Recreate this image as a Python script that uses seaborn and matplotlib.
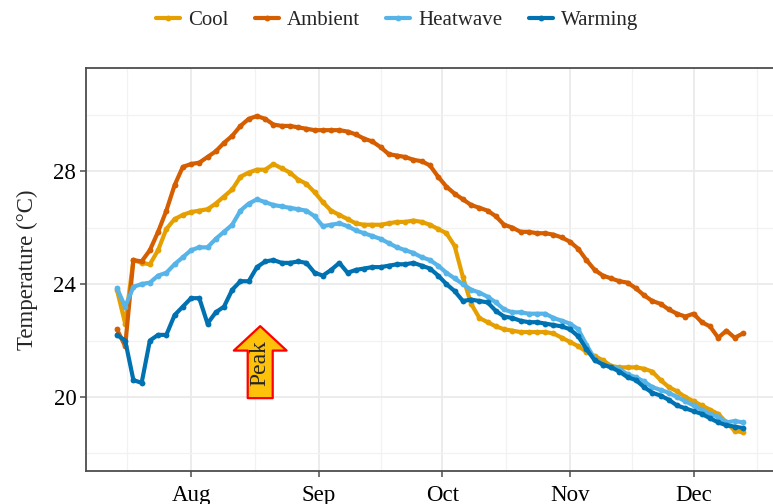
import numpy as np
import pandas as pd
import matplotlib
matplotlib.use("Agg")
import matplotlib.pyplot as plt
import matplotlib.dates as mdates
from matplotlib.ticker import MultipleLocator, FixedLocator
from matplotlib.lines import Line2D
import seaborn as sns

# ── Data (every second day) ─────────────────────────────────────────────────
start_date = "2023-07-14"
n_days = 77

cool = [23.8, 22.6, 24.85, 24.75, 24.7, 25.2, 25.95, 26.3, 26.45, 26.55,
        26.6, 26.65, 26.85, 27.1, 27.35, 27.8, 27.95, 28.05, 28.05, 28.25,
        28.1, 27.95, 27.7, 27.55, 27.25, 26.9, 26.6, 26.45, 26.3, 26.15,
        26.1, 26.1, 26.1, 26.15, 26.2, 26.2, 26.25, 26.2, 26.1, 25.95,
        25.8, 25.35, 24.25, 23.3, 22.8, 22.65, 22.5, 22.4, 22.35, 22.3,
        22.3, 22.3, 22.3, 22.25, 22.1, 21.95, 21.8, 21.6, 21.45, 21.3,
        21.1, 21.05, 21.05, 21.05, 21.0, 20.9, 20.6, 20.35, 20.2, 20.0,
        19.85, 19.7, 19.55, 19.4, 19.1, 18.8, 18.75]

ambient = [22.4, 21.8, 24.85, 24.8, 25.2, 25.85, 26.6, 27.5, 28.15, 28.25,
           28.3, 28.5, 28.7, 29.0, 29.25, 29.6, 29.85, 29.95, 29.85, 29.65,
           29.6, 29.6, 29.55, 29.5, 29.45, 29.45, 29.45, 29.45, 29.4, 29.3,
           29.15, 29.05, 28.85, 28.6, 28.55, 28.5, 28.4, 28.35, 28.2, 27.8,
           27.45, 27.2, 27.0, 26.8, 26.7, 26.6, 26.4, 26.1, 26.0, 25.85,
           25.85, 25.8, 25.8, 25.75, 25.65, 25.5, 25.25, 24.85, 24.5, 24.3,
           24.2, 24.1, 24.05, 23.85, 23.6, 23.4, 23.3, 23.1, 22.95, 22.85,
           22.95, 22.65, 22.5, 22.1, 22.35, 22.1, 22.25]

heatwave = [23.85, 23.2, 23.9, 24.0, 24.05, 24.3, 24.4, 24.7, 24.95, 25.2,
            25.3, 25.3, 25.6, 25.85, 26.1, 26.6, 26.85, 27.0, 26.9, 26.8,
            26.75, 26.7, 26.65, 26.6, 26.4, 26.05, 26.1, 26.15, 26.05, 25.9,
            25.8, 25.7, 25.6, 25.45, 25.3, 25.2, 25.1, 24.95, 24.85, 24.65,
            24.4, 24.2, 24.0, 23.8, 23.7, 23.55, 23.35, 23.1, 23.0, 23.0,
            22.95, 22.95, 22.95, 22.8, 22.7, 22.6, 22.4, 21.85, 21.35, 21.15,
            21.05, 21.0, 20.8, 20.7, 20.55, 20.35, 20.25, 20.15, 20.0, 19.85,
            19.7, 19.55, 19.4, 19.3, 19.1, 19.15, 19.1]

warming = [22.2, 22.0, 20.6, 20.5, 22.0, 22.2, 22.2, 22.9, 23.2, 23.5,
           23.5, 22.6, 23.0, 23.2, 23.8, 24.1, 24.1, 24.6, 24.8, 24.85,
           24.75, 24.75, 24.8, 24.75, 24.4, 24.3, 24.5, 24.75, 24.4, 24.5,
           24.55, 24.6, 24.6, 24.65, 24.7, 24.7, 24.75, 24.65, 24.55, 24.3,
           24.0, 23.75, 23.4, 23.45, 23.4, 23.35, 23.05, 22.85, 22.8, 22.7,
           22.65, 22.65, 22.6, 22.55, 22.5, 22.4, 22.15, 21.7, 21.3, 21.15,
           21.05, 20.9, 20.7, 20.6, 20.35, 20.15, 20.05, 19.9, 19.7, 19.6,
           19.5, 19.4, 19.25, 19.1, 19.0, 18.95, 18.9]

series_names = ["Cool", "Ambient", "Heatwave", "Warming"]
COLORS = ["#E69F00", "#D55E00", "#56B4E9", "#0072B2"]

# "Peak" arrow: tail / tip temperatures and date
peak_date = "2023-08-17 19:00"
peak_tail, peak_tip = 19.96, 22.51

dates = pd.date_range(start_date, periods=n_days, freq="2D")
df = pd.concat([
    pd.DataFrame({"date": dates, "temp": vals, "treatment": name})
    for name, vals in zip(series_names, [cool, ambient, heatwave, warming])
])

# ── Style ─────────────────────────────────────────────────────────────────────
sns.set_theme(style="whitegrid")
plt.rcParams["font.family"] = ["Liberation Serif", "DejaVu Serif"]

fig = plt.figure(figsize=(7.73, 5.04), dpi=100)
ax = fig.add_axes([0.1113, 0.0655, 0.8887, 0.7995])

sns.lineplot(data=df, x="date", y="temp", hue="treatment",
             hue_order=series_names, palette=COLORS, marker="o",
             markersize=4.2, markeredgewidth=0, linewidth=3.0,
             legend=False, ax=ax)

# axes limits / ticks
t0 = pd.Timestamp(start_date)
ax.set_xlim(t0 - pd.Timedelta(days=7.5), t0 + pd.Timedelta(days=159.3))
ax.set_ylim(17.38, 31.65)

month_starts = pd.date_range("2023-07-01", "2024-01-01", freq="MS")
mids = [a + (b - a) / 2 for a, b in zip(month_starts[:-1], month_starts[1:])]
ax.xaxis.set_major_locator(mdates.MonthLocator())
ax.xaxis.set_major_formatter(mdates.DateFormatter("%b"))
ax.xaxis.set_minor_locator(FixedLocator(mdates.date2num(mids)))
ax.yaxis.set_major_locator(MultipleLocator(4))
ax.yaxis.set_minor_locator(MultipleLocator(2))

ax.grid(which="major", color="#EBEBEB", linewidth=1.3)
ax.grid(which="minor", color="#F2F2F2", linewidth=0.9)
ax.set_axisbelow(True)

for side in ["left", "bottom", "top"]:
    ax.spines[side].set_visible(True)
    ax.spines[side].set_color("#4D4D4D")
    ax.spines[side].set_linewidth(1.3)
ax.spines["right"].set_visible(False)

ax.tick_params(axis="both", which="major", length=4, width=1.1,
               color="#4D4D4D", labelsize=16.5, labelcolor="black",
               left=True, bottom=True)
ax.tick_params(axis="x", which="major", pad=6)
ax.tick_params(axis="y", which="major", pad=3)
ax.tick_params(which="minor", length=0)
ax.set_xlabel("")
ax.set_ylabel("Temperature (°C)", fontsize=16.5, labelpad=11)

# ── Peak annotation ───────────────────────────────────────────────────────────
pk = pd.Timestamp(peak_date)
ax.annotate("", xy=(pk, peak_tip), xytext=(pk, peak_tail),
            arrowprops=dict(arrowstyle="simple,head_width=1.9,head_length=0.88,tail_width=0.9",
                            fc="#FFC20A", ec="red", lw=1.6, mutation_scale=20,
                            shrinkA=0, shrinkB=0))
ax.text(pk, 21.19, "Peak", rotation=90, ha="center", va="center", fontsize=17)

# ── Legend ────────────────────────────────────────────────────────────────────
handles = [Line2D([0], [0], color=c, lw=3.0, marker="o", markersize=4.2,
                  markeredgewidth=0) for c in COLORS]
fig.legend(handles, series_names, loc="center", ncol=4,
           bbox_to_anchor=(0.514, 0.960), frameon=False, fontsize=15,
           handlelength=1.15, handletextpad=0.4, columnspacing=1.25)

plt.savefig("out.png", dpi=100)
